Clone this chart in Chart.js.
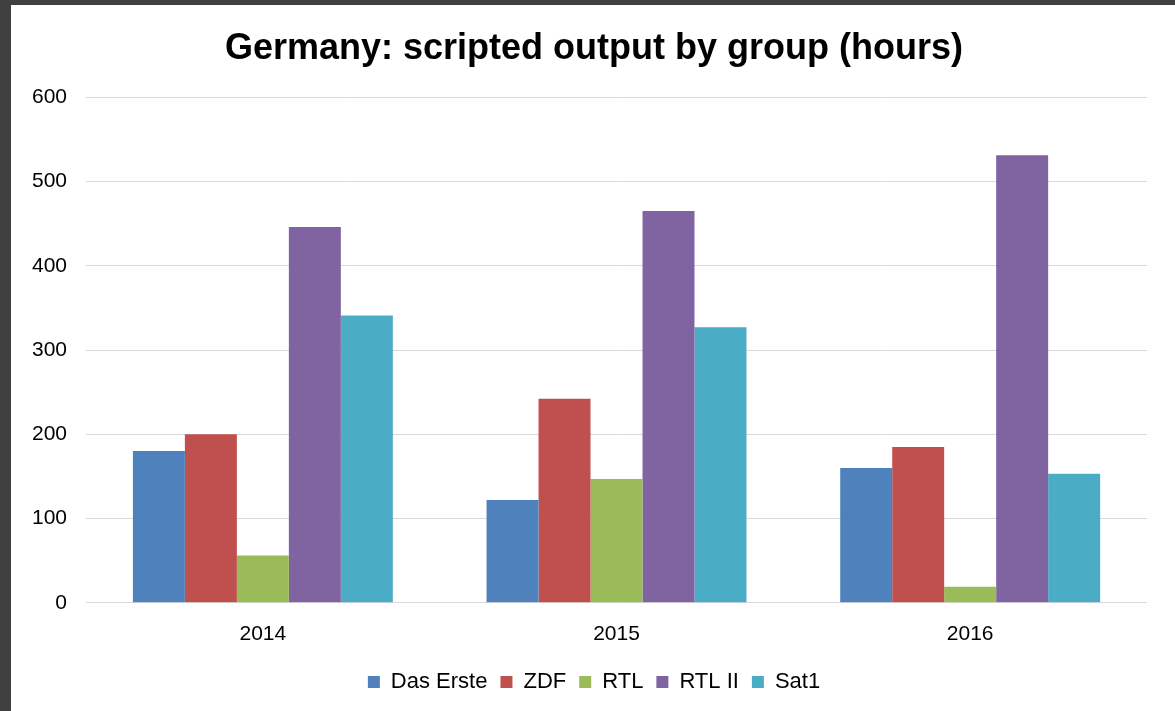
<!DOCTYPE html>
<html>
<head>
<meta charset="utf-8">
<script src="https://cdn.jsdelivr.net/npm/chart.js@4"></script>
<style>
body{margin:0;background:#404040;}
#wrap{position:absolute;left:11px;top:5px;width:1164px;height:706px;background:#fff;}
</style>
</head>
<body>
<div id="wrap"><canvas id="graph1"></canvas></div>
<script>
// years on the x axis
const years = ["2014", "2015", "2016"];
// hours per channel group
const dasErste = [180, 122, 160];
const zdf = [200, 242, 185];
const rtl = [56, 147, 19];
const rtl2 = [446, 465, 531];
const sat1 = [341, 327, 153];
const yTicks = [0, 100, 200, 300, 400, 500, 600];

const font = "'Liberation Sans', Arial, sans-serif";

function ds(label, data, color){
  return {label:label, data:data, backgroundColor:color, borderWidth:0,
    barPercentage:1, categoryPercentage:0.735};
}

new Chart(document.getElementById("graph1"), {
  type: 'bar',
  data: {
    labels: years,
    datasets: [
      ds("Das Erste", dasErste, "#4f81bd"),
      ds("ZDF", zdf, "#c0504d"),
      ds("RTL", rtl, "#9bbb59"),
      ds("RTL II", rtl2, "#8064a2"),
      ds("Sat1", sat1, "#4bacc6")
    ]
  },
  options: {
    responsive: true,
    maintainAspectRatio: false,
    animation: false,
    layout: {padding: {left: 2, right: 0, top: 10, bottom: 8}},
    plugins: {
      title: {display: true, text: "Germany: scripted output by group (hours)", color: "#000",
        font: {family: font, size: 36, weight: "bold"}, padding: {top: 12, bottom: 27}},
      legend: {position: "bottom", labels: {color: "#000", font: {family: font, size: 22},
        boxWidth: 12, boxHeight: 12, padding: 13}},
      tooltip: {enabled: false}
    },
    scales: {
      x: {grid: {display: false}, border: {display: false},
        ticks: {color: "#000", font: {family: font, size: 21}, padding: 11}},
      y: {min: 0, max: 600, afterBuildTicks: a => { a.ticks = yTicks.map(v => ({value: v})); },
        grid: {color: "#d9d9d9", lineWidth: 1, drawTicks: false}, border: {display: false},
        ticks: {color: "#000", font: {family: font, size: 21}, padding: 19}},
      // empty right axis just to keep the right margin
      yRight: {position: "right", display: true, grid: {display: false}, border: {display: false},
        ticks: {display: false}, afterFit: s => { s.width = 28; }}
    }
  }
});
</script>
</body>
</html>
